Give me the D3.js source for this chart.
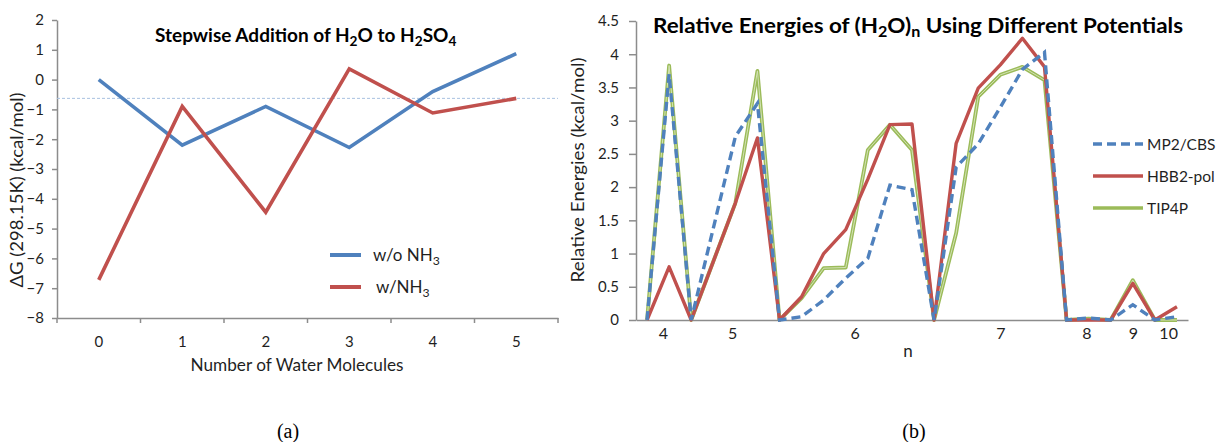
<!DOCTYPE html>
<meta charset="utf-8">
<style>
  body { margin: 0; background: #fff; }
  text { font-family: Lato, "Open Sans", sans-serif; fill: #1f1f1f; }
  .axis path, .axis line { stroke: #8c8c8c; stroke-width: 1.5; }
  .axis text { font-size: 15px; fill: #1f1f1f; }
  .title { font-weight: bold; font-size: 19px; fill: #000; }
  .lbl { font-size: 17px; }
  .leg { font-size: 15.5px; }
  .cap { font-family: "Liberation Serif", serif; font-size: 20px; fill: #000; }
</style>
<svg width="1220" height="442"></svg>
<script src="https://cdnjs.cloudflare.com/ajax/libs/d3/7.8.5/d3.min.js"></script>
<script>

// (a) stepwise addition of water
var waterCount = ["0", "1", "2", "3", "4", "5"],
    withoutNH3 = [0, -2.2, -0.9, -2.28, -0.4, 0.87],
    withNH3 = [-6.72, -0.9, -4.45, 0.36, -1.12, -0.63],
    refLevel = -0.63,
    dgTicks = d3.range(-8, 3, 1);

// (b) relative energies of water clusters, one entry per isomer
var mp2cbs = [0, 3.7, 0, 1.38, 2.76, 3.26, 0, 0.05, 0.3, 0.63, 0.93, 2.03, 1.96,
              0, 2.3, 2.65, 3.2, 3.77, 4.03, 0, 0.03, 0, 0.23, 0, 0.05],
    hbb2pol = [0, 0.8, 0, 0.88, 1.76, 2.74, 0, 0.35, 1.0, 1.36, 2.12, 2.94, 2.95,
               0, 2.66, 3.49, 3.84, 4.24, 3.81, 0, 0, 0, 0.55, 0, 0.2],
    tip4p = [0, 3.83, 0, 0.88, 1.76, 3.75, 0, 0.33, 0.78, 0.79, 2.56, 2.94, 2.56,
             0, 1.31, 3.36, 3.69, 3.81, 3.61, 0, 0.02, 0, 0.6, 0, 0],
    clusterSize = ["4", "5", "6", "7", "8", "9", "10"],
    clusterPos = [0.72, 3.85, 9.4, 16, 19.9, 22, 23.6],
    energyTicks = d3.range(0, 4.51, 0.5);

var svg = d3.select("svg");

// parts: [text, isSub]; subscripts drop 0.22em of the parent size, then return
function subText(sel, parts) {
  var down = false;
  parts.forEach(function(p) {
    var t = sel.append("tspan").text(p[0]);
    if (p[1]) { t.attr("font-size", "0.72em").attr("dy", "0.3em"); down = true; }
    else if (down) { t.attr("dy", "-0.216em"); down = false; }
  });
  return sel;
}

// ---------- chart (a) ----------
var xa = d3.scaleBand().domain(waterCount).range([57, 558]);
var ya = d3.scaleLinear().domain([-8, 2]).range([318, 20]);

svg.append("g")
    .attr("class", "axis")
    .attr("transform", "translate(57,0)")
    .call(d3.axisLeft(ya).tickValues(dgTicks).tickSize(5).tickSizeOuter(0).tickPadding(8));

var gxa = svg.append("g")
    .attr("class", "axis")
    .attr("transform", "translate(0,318)")
    .call(d3.axisBottom(xa).tickSize(0).tickSizeOuter(0).tickPadding(18));
gxa.selectAll(".bound")
    .data(waterCount.map(function(d) { return xa(d); }).concat([xa.range()[1]]))
  .enter().append("line")
    .attr("x1", function(d) { return d; })
    .attr("x2", function(d) { return d; })
    .attr("y1", 0).attr("y2", 5);

svg.append("line")
    .attr("x1", 57).attr("x2", 558)
    .attr("y1", ya(refLevel)).attr("y2", ya(refLevel))
    .attr("stroke", "#a9c1e0").attr("stroke-width", 1).attr("stroke-dasharray", "3,2");

var lineA = d3.line()
    .x(function(d, i) { return xa(waterCount[i]) + xa.bandwidth() / 2; })
    .y(function(d) { return ya(d); });

svg.append("path").datum(withoutNH3)
    .attr("d", lineA).attr("fill", "none").attr("stroke", "#4f81bd").attr("stroke-width", 3.6);
svg.append("path").datum(withNH3)
    .attr("d", lineA).attr("fill", "none").attr("stroke", "#c0504d").attr("stroke-width", 3.6);

subText(svg.append("text").attr("class", "title").attr("x", 155).attr("y", 42),
  [["Stepwise Addition of H"], ["2", 1], ["O to H"], ["2", 1], ["SO"], ["4", 1]]);

svg.append("text").attr("class", "lbl")
    .attr("transform", "translate(23,190) rotate(-90)")
    .attr("text-anchor", "middle")
    .attr("textLength", 195).attr("lengthAdjust", "spacingAndGlyphs")
    .text("\u0394G (298.15K) (kcal/mol)");

svg.append("text").attr("class", "lbl")
    .attr("x", 297).attr("y", 371).attr("text-anchor", "middle")
    .attr("textLength", 213).attr("lengthAdjust", "spacingAndGlyphs")
    .text("Number of Water Molecules");

var legA = [["w/o NH", "#4f81bd", 261, 373], ["w/NH", "#c0504d", 293, 376]];
legA.forEach(function(l) {
  svg.append("line").attr("x1", 330).attr("x2", 361)
      .attr("y1", l[2] - 6).attr("y2", l[2] - 6)
      .attr("stroke", l[1]).attr("stroke-width", 4);
  subText(svg.append("text").attr("class", "lbl").attr("x", l[3]).attr("y", l[2]),
    [[l[0]], ["3", 1]]);
});

// ---------- chart (b) ----------
var xb = d3.scaleLinear().domain([-0.5, 24.5]).range([636, 1188]);
var yb = d3.scaleLinear().domain([0, 4.5]).range([320, 21]);

svg.append("g")
    .attr("class", "axis")
    .attr("transform", "translate(636,0)")
    .call(d3.axisLeft(yb).tickValues(energyTicks).tickFormat(d3.format("~g"))
      .tickSize(7).tickSizeOuter(0).tickPadding(10));

svg.append("g")
    .attr("class", "axis")
    .attr("transform", "translate(0,320)")
    .call(d3.axisBottom(xb).tickValues(clusterPos)
      .tickFormat(function(d, i) { return clusterSize[i]; })
      .tickSize(0).tickSizeOuter(0).tickPadding(8))
    .selectAll("text").style("font-size", "16px");

var lineB = d3.line()
    .x(function(d, i) { return xb(i); })
    .y(function(d) { return yb(d); });

svg.append("path").datum(tip4p)
    .attr("d", lineB).attr("fill", "none").attr("stroke", "#9bbb59")
    .attr("stroke-width", 3.8).attr("stroke-linejoin", "round");
svg.append("path").datum(tip4p)
    .attr("d", lineB).attr("fill", "none").attr("stroke", "#d2e2b4")
    .attr("stroke-width", 1).attr("stroke-linejoin", "round");
svg.append("path").datum(hbb2pol)
    .attr("d", lineB).attr("fill", "none").attr("stroke", "#c0504d")
    .attr("stroke-width", 3.4).attr("stroke-linejoin", "round");
svg.append("path").datum(mp2cbs)
    .attr("d", lineB).attr("fill", "none").attr("stroke", "#4f81bd")
    .attr("stroke-width", 3.4).attr("stroke-dasharray", "9,5");

subText(svg.append("text").attr("class", "title").attr("x", 653).attr("y", 33).style("font-size", "20px"),
  [["Relative Energies of (H"], ["2", 1], ["O)"], ["n", 1], [" Using Different Potentials"]])
    .attr("textLength", 530).attr("lengthAdjust", "spacingAndGlyphs");

svg.append("text").attr("class", "lbl")
    .attr("transform", "translate(584,170) rotate(-90)")
    .attr("text-anchor", "middle")
    .attr("textLength", 225).attr("lengthAdjust", "spacingAndGlyphs")
    .text("Relative Energies (kcal/mol)");

svg.append("text").attr("class", "lbl")
    .attr("x", 908).attr("y", 357).attr("text-anchor", "middle")
    .text("n");

var legB = [["MP2/CBS", "#4f81bd", 150, "9,5"], ["HBB2-pol", "#c0504d", 182, null], ["TIP4P", "#9bbb59", 214, null]];
legB.forEach(function(l) {
  svg.append("line").attr("x1", 1093).attr("x2", 1143)
      .attr("y1", l[2] - 6).attr("y2", l[2] - 6)
      .attr("stroke", l[1]).attr("stroke-width", 3.5)
      .attr("stroke-dasharray", l[3]);
  svg.append("text").attr("class", "leg").attr("x", 1147).attr("y", l[2]).text(l[0]);
});

// panel captions
svg.append("text").attr("class", "cap").attr("x", 288).attr("y", 438).attr("text-anchor", "middle").text("(a)");
svg.append("text").attr("class", "cap").attr("x", 914).attr("y", 438).attr("text-anchor", "middle").text("(b)");

</script>
